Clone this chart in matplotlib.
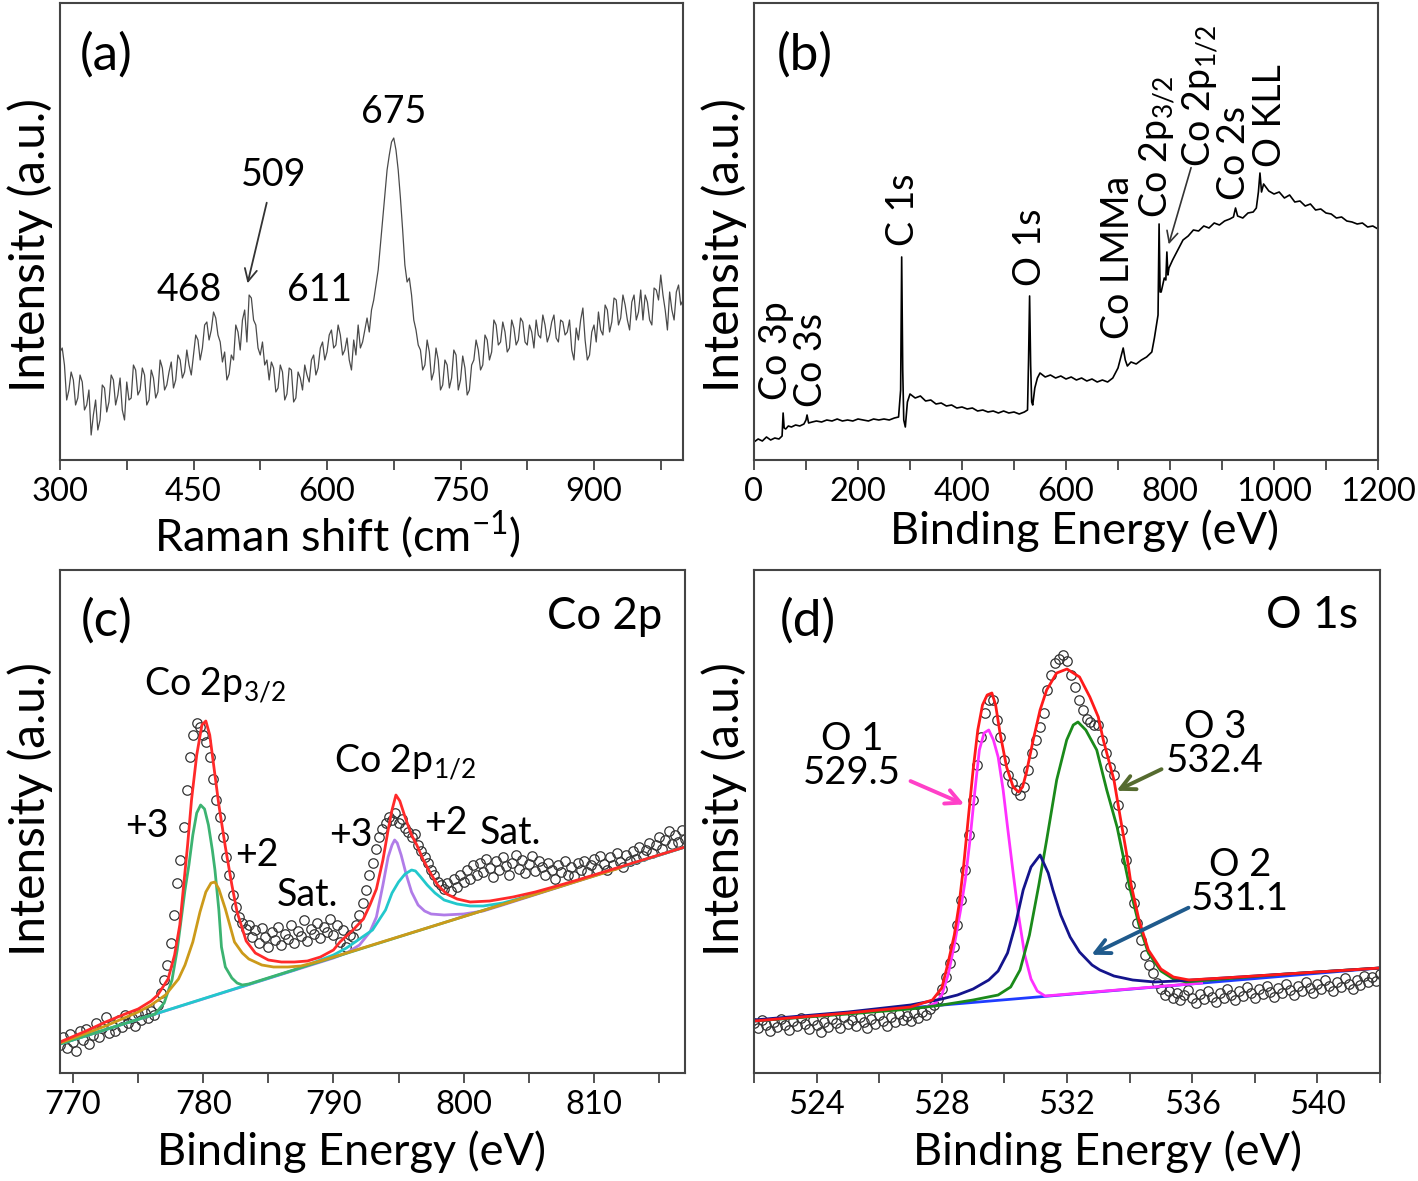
import matplotlib.pyplot as plt
import numpy as np

plt.rcParams['font.family'] = ['Lato', 'DejaVu Sans']
plt.rcParams['mathtext.fontset'] = 'custom'
plt.rcParams['mathtext.rm'] = 'Lato'
plt.rcParams['mathtext.it'] = 'Lato:italic'
plt.rcParams['mathtext.bf'] = 'Lato:bold'

# ---------------- (a) Raman spectrum, 300-1000 cm-1 every 2.5 cm-1 ----------------
raman_start = 300
raman_step = 2.5
raman_y = [108, 112, 95, 60, 70, 88, 80, 55, 62, 85, 78, 50, 55, 70, 25, 45, 60, 30, 40, 75,
           72, 48, 58, 85, 80, 55, 65, 82, 50, 40, 78, 60, 62, 95, 90, 65, 70, 92, 85, 55,
           60, 90, 82, 62, 68, 100, 92, 70, 75, 88, 98, 72, 80, 105, 100, 82, 88, 110, 95, 85,
           105, 125, 120, 100, 112, 135, 138, 120, 130, 148, 142, 125, 118, 98, 108, 80, 86, 105, 100, 135,
           128, 110, 140, 150, 118, 165, 162, 140, 135, 112, 105, 118, 95, 100, 80, 98, 92, 68, 72, 95,
           88, 60, 66, 92, 90, 58, 62, 88, 82, 70, 95, 85, 78, 100, 105, 85, 92, 112, 118, 100,
           108, 125, 130, 112, 115, 135, 125, 105, 110, 122, 100, 90, 120, 105, 135, 112, 118, 130, 142, 128,
           150, 160, 175, 190, 215, 240, 265, 290, 305, 318, 322, 310, 290, 262, 230, 195, 178, 182, 165, 140,
           130, 115, 110, 90, 95, 120, 108, 80, 88, 112, 100, 70, 75, 100, 95, 72, 82, 110, 105, 70,
           80, 104, 92, 65, 70, 95, 100, 120, 110, 90, 95, 125, 120, 100, 108, 140, 135, 115, 118, 138,
           128, 108, 112, 140, 132, 115, 120, 142, 138, 118, 115, 135, 128, 112, 140, 125, 122, 145, 135, 118,
           125, 138, 145, 122, 118, 140, 138, 125, 128, 140, 110, 100, 132, 120, 140, 152, 120, 100, 105, 128,
           135, 118, 148, 130, 125, 155, 150, 128, 138, 162, 160, 135, 142, 165, 155, 140, 130, 158, 165, 140,
           148, 170, 140, 165, 158, 140, 135, 172, 170, 160, 185, 165, 150, 130, 168, 150, 140, 168, 175, 155,
           160]
raman_x = raman_start + raman_step * np.arange(len(raman_y))
raman_peaks = ['468', '509', '611', '675']
raman_peak_pos = [445, 540, 592, 675]
raman_peak_lvl = [170, 285, 170, 348]

# ---------------- (b) XPS survey ----------------
sv_x = [0, 8, 16, 24, 32, 40, 48, 54, 56, 58,
        61, 66, 72, 80, 88, 96, 100, 102, 105, 112,
        120, 130, 140, 150, 160, 170, 180, 190, 200, 210,
        220, 230, 240, 250, 260, 270, 278, 282, 284, 286,
        288, 291, 295, 300, 310, 320, 330, 340, 350, 360,
        370, 380, 390, 400, 410, 420, 430, 440, 450, 460,
        470, 480, 490, 500, 510, 520, 526, 528, 530, 532,
        534, 536, 540, 545, 550, 560, 570, 580, 590, 600,
        610, 620, 630, 640, 650, 660, 670, 680, 690, 700,
        706, 710, 714, 718, 725, 735, 745, 755, 765, 770,
        775, 777, 779, 781, 783, 786, 789, 792, 794, 796,
        798, 805, 815, 825, 835, 845, 855, 865, 875, 885,
        895, 905, 915, 922, 926, 930, 940, 950, 960, 966,
        970, 973, 976, 980, 990, 1000, 1010, 1020, 1030, 1040,
        1050, 1060, 1070, 1080, 1090, 1100, 1110, 1120, 1130, 1140,
        1150, 1160, 1170, 1180, 1190, 1200]
sv_y = [18, 21, 19, 23, 20, 22, 21, 24, 47, 32,
        31, 34, 33, 35, 34, 36, 40, 45, 37, 38,
        39, 38, 40, 39, 41, 39, 40, 39, 41, 40,
        39, 41, 40, 41, 40, 42, 43, 70, 203, 90,
        40, 33, 58, 66, 62, 64, 59, 60, 56, 57,
        54, 55, 52, 53, 51, 52, 49, 50, 48, 49,
        47, 49, 47, 48, 46, 48, 50, 100, 164, 95,
        58, 55, 72, 82, 87, 83, 85, 82, 84, 81,
        83, 80, 82, 79, 81, 78, 80, 78, 82, 92,
        104, 112, 100, 94, 98, 96, 100, 103, 108, 122,
        138, 145, 236, 168, 168, 175, 182, 180, 208, 185,
        192, 200, 210, 220, 224, 230, 229, 234, 232, 237,
        235, 239, 241, 243, 252, 244, 242, 247, 248, 252,
        268, 287, 268, 276, 269, 266, 268, 262, 265, 258,
        259, 254, 256, 250, 251, 247, 246, 242, 243, 239,
        238, 236, 237, 233, 234, 231]
sv_labels = ['Co 3p', 'Co 3s', 'C 1s', 'O 1s', 'Co LMMa',
             'Co 2p$_{3/2}$', 'Co 2p$_{1/2}$', 'Co 2s', 'O KLL']
sv_label_pos = [42, 110, 287, 531, 700, 775, 858, 923, 992]
sv_label_lvl = [60, 53, 214, 174, 121, 242, 293, 260, 293]

# ---------------- (c) Co 2p ----------------
co_start = 769
co_step = 0.25
co_pts = [30, 38, 27, 41, 33, 24, 44, 35, 46, 31, 40, 52, 38, 47, 58, 42,
          50, 44, 55, 48, 60, 52, 57, 49, 61, 55, 62, 57, 64, 60, 70, 82,
          95, 110, 132, 160, 192, 215, 248, 285, 318, 340, 352, 348, 340, 333,
          318, 296, 275, 258, 238, 218, 200, 180, 168, 158, 152, 146, 150, 138,
          145, 132, 147, 138, 128, 143, 135, 148, 130, 141, 136, 150, 132, 144,
          139, 155, 134, 146, 141, 152, 137, 148, 143, 156, 140, 150, 133, 145,
          128, 140, 138, 150, 160, 172, 185, 200, 212, 226, 238, 246, 252, 258,
          255, 262, 252, 256, 247, 243, 238, 241, 230, 224, 218, 212, 205, 200,
          193, 190, 186, 192, 184, 196, 188, 200, 193, 205, 196, 210, 200, 212,
          203, 216, 207, 198, 214, 205, 218, 209, 200, 212, 220, 206, 215, 202,
          211, 219, 204, 214, 208, 200, 212, 205, 196, 210, 203, 214, 200, 208,
          199, 212, 205, 214, 203, 210, 216, 206, 219, 211, 205, 218, 210, 222,
          213, 208, 220, 214, 224, 216, 228, 219, 225, 232, 222, 230, 238, 226,
          235, 244, 231, 240, 233, 245, 236]
co_x = co_start + co_step * np.arange(len(co_pts))

co_env_x = [769, 771, 772.5, 774, 775, 776, 776.5, 777.3, 777.8, 778.2, 778.5,
            778.8, 779.1, 779.5, 779.9, 780.2, 780.5, 780.9, 781.2, 781.7, 782.2,
            782.6, 783.3, 784, 785, 786, 787, 788, 789, 790, 790.5, 791.5, 792.3,
            792.8, 793.3, 793.8, 794.2, 794.5, 794.8, 795.1, 795.5, 796, 796.4,
            796.9, 797.4, 798, 798.7, 799.5, 800.5, 802, 803.8, 805.5, 807.7, 809, 817]
co_env_y = [33, 44, 53, 61, 66, 74, 80, 96, 120, 150, 190,
            230, 275, 320, 350, 354, 340, 300, 270, 228, 190,
            163, 134, 122, 115, 113, 113, 114, 118, 125, 133, 145, 156,
            170, 186, 215, 245, 265, 280, 274, 258, 240, 230,
            215, 203, 190, 181, 176, 173, 174, 178, 183, 191, 196, 228]

co3_a_x = [769, 776.3, 777, 777.6, 778, 778.3, 778.6, 778.9, 779.2, 779.5, 779.8,
           780.1, 780.4, 780.7, 780.9, 781.2, 781.4, 781.7, 782.2, 782.6, 783, 783.5, 817]
co3_a_y = [31, 61, 72, 95, 125, 155, 185, 210, 240, 262, 270,
           266, 250, 225, 205, 165, 128, 108, 97, 92, 90, 91, 228]

co2_a_x = [769, 772.5, 775, 776, 777.1, 778.1, 778.6, 779.2, 779.75, 780.2, 780.6,
           780.9, 781.2, 781.7, 782.4, 783, 783.5, 784.5, 785.4, 786.5, 787.5, 789, 791, 812]
co2_a_y = [32, 49, 63, 70, 80, 96, 110, 133, 163, 183, 192,
           193, 186, 166, 133, 122, 116, 110, 108, 108, 109, 114, 122, 207]

co3_b_x = [769, 790, 791, 792, 792.8, 793.3, 793.8, 794.2, 794.5, 794.7, 794.9,
           795.2, 795.6, 796, 796.5, 797, 797.5, 798.5, 800, 801.5, 803, 817]
co3_b_y = [31, 117, 122, 130, 143, 158, 190, 218, 230, 235, 232,
           220, 200, 183, 170, 164, 161, 160, 161, 164, 170, 228]

co2_b_x = [769, 787, 788, 789, 790, 791, 792, 793, 794, 794.5, 795, 795.5, 796,
           796.3, 796.7, 797.2, 797.8, 798.5, 799.5, 800.5, 801.5, 803, 805, 817]
co2_b_y = [31, 105, 110, 115, 120, 127, 136, 145, 165, 182, 193, 201, 205,
           204, 198, 190, 182, 175, 171, 169, 169, 172, 179, 228]

# ---------------- (d) O 1s ----------------
o_start = 522
o_step = 0.125
o_pts = [52, 47, 55, 50, 44, 53, 48, 56, 50, 45, 54, 49, 57, 51, 46, 55,
         50, 43, 53, 48, 56, 52, 47, 58, 51, 55, 49, 58, 53, 47, 56, 51,
         60, 54, 49, 58, 53, 61, 55, 59, 54, 62, 57, 63, 60, 66, 70, 76,
         86, 98, 112, 128, 150, 175, 205, 240, 275, 310, 338, 362, 375, 375,
         355, 338, 315, 300, 292, 285, 280, 288, 305, 322, 335, 348, 362, 385,
         400, 412, 416, 420, 414, 400, 388, 375, 365, 356, 353, 350, 350, 335,
         322, 308, 300, 270, 245, 215, 190, 172, 152, 135, 120, 110, 102, 92,
         86, 80, 84, 77, 82, 75, 80, 85, 77, 72, 81, 76, 84, 78, 73, 82,
         77, 86, 80, 75, 84, 79, 88, 82, 77, 86, 81, 89, 83, 78, 87, 82,
         91, 85, 80, 89, 84, 93, 87, 82, 91, 86, 95, 89, 84, 93, 88, 97,
         91, 86, 95, 90, 99, 93, 98, 94, 101]
o_x = o_start + o_step * np.arange(len(o_pts))

o_env_x = [522, 525, 527, 527.7, 528.0, 528.2, 528.4, 528.55, 528.7, 528.85, 529.0,
           529.15, 529.3, 529.45, 529.6, 529.72, 529.86, 530.07, 530.28, 530.45, 530.58,
           530.7, 530.92, 531.14, 531.35, 531.67, 532.0, 532.4, 532.73, 533.0, 533.16,
           533.5, 533.7, 533.9, 534.05, 534.3, 534.6, 535.0, 535.4, 535.9, 537, 542]
o_env_y = [54, 62, 68, 75, 87, 112, 140, 170, 210, 258, 305,
           345, 370, 380, 382, 370, 342, 308, 288, 283, 288,
           302, 335, 365, 385, 402, 406, 398, 378, 358, 335,
           295, 258, 222, 190, 155, 125, 106, 98, 95, 97, 107]

o1_x = [527.5, 527.8, 528.0, 528.2, 528.4, 528.6, 528.75, 528.9, 529.06, 529.2, 529.35,
        529.5, 529.65, 529.8, 529.96, 530.1, 530.28, 530.45, 530.65, 530.85, 531.05, 531.3, 536.3]
o1_y = [68, 72, 80, 100, 130, 165, 195, 235, 285, 325, 342,
        345, 335, 318, 285, 248, 202, 160, 120, 96, 84, 79, 92]

o2_x = [522, 525, 527, 528, 528.5, 529, 529.5, 529.8, 530.1, 530.35, 530.6, 530.85,
        531.14, 531.4, 531.55, 531.8, 532.1, 532.4, 532.8, 533.05, 533.5, 534.1,
        534.8, 535.5, 536.5, 538, 540, 542]
o2_y = [55, 63, 70, 76, 80, 86, 95, 104, 122, 150, 185, 208,
        220, 202, 185, 160, 138, 123, 110, 105, 99, 95,
        93, 94, 96, 99, 103, 107]

o3_x = [522, 525, 527, 528, 529, 529.8, 530.2, 530.5, 530.8, 531.1, 531.35, 531.67,
        531.99, 532.2, 532.35, 532.6, 532.95, 533.27, 533.6, 533.8, 534.0, 534.3,
        534.6, 535.0, 535.4, 535.8, 537, 539, 542]
o3_y = [54, 61, 66, 70, 75, 80, 88, 105, 140, 190, 235, 295,
        335, 350, 353, 345, 325, 285, 248, 218, 188, 150,
        122, 104, 96, 93, 96, 101, 107]

o_base_x = [522, 542]
o_base_y = [54, 107]

W, H = 1418, 1181
fig = plt.figure(figsize=(W / 100, H / 100), dpi=100)


def make_axes(left, right, top, bottom):
    return fig.add_axes([left / W, 1 - bottom / H, (right - left) / W, (bottom - top) / H])


def style(ax, xlim, ylim, major, minor, xlabel, xpad, xlab_x, ylab_y):
    ax.set_xlim(xlim)
    ax.set_ylim(ylim)
    ax.set_xticks(major)
    ax.set_xticks(minor, minor=True)
    ax.set_yticks([])
    ax.tick_params(axis='x', which='both', direction='out', length=7, width=1.3,
                   labelsize=23.5, pad=5, color='#444444')
    ax.set_xlabel(xlabel, fontsize=32.5, labelpad=xpad)
    ax.set_ylabel('Intensity (a.u.)', fontsize=34.5, labelpad=5)
    # the labels are not centred on the axes in the original figure
    ax.xaxis.label.set_x(xlab_x)
    ax.yaxis.label.set_y(ylab_y)
    for s in ax.spines.values():
        s.set_linewidth(1.5)
        s.set_color('#444444')


ax_a = make_axes(60, 683, 3, 460)
ax_b = make_axes(754, 1378, 3, 460)
ax_c = make_axes(60, 685, 570, 1073)
ax_d = make_axes(754, 1380, 570, 1073)

# (a)
ax_a.plot(raman_x, raman_y, color='#4a4a4a', lw=0.9)
style(ax_a, (300, 1000), (0, 457), np.arange(300, 901, 150), np.arange(375, 1000, 150),
      'Raman shift (cm$^{-1}$)', 2, 0.445, 0.47)
for lab, px, lv in zip(raman_peaks, raman_peak_pos, raman_peak_lvl):
    ax_a.text(px, lv, lab, fontsize=27, ha='center', va='center')
ax_a.annotate('', xy=(510, 174), xytext=(533, 260),
              arrowprops=dict(arrowstyle='->', color='#333333', lw=1.3, mutation_scale=22))
ax_a.text(0.074, 0.886, '(a)', transform=ax_a.transAxes, fontsize=37, ha='center', va='center')

# (b)
ax_b.plot(sv_x, sv_y, color='black', lw=1.2)
style(ax_b, (0, 1200), (0, 457), np.arange(0, 1201, 200), np.arange(100, 1200, 200),
      'Binding Energy (eV)', 2, 0.53, 0.47)
for lab, px, lv in zip(sv_labels, sv_label_pos, sv_label_lvl):
    ax_b.text(px, lv, lab, fontsize=27, rotation=90, ha='center', va='bottom')
ax_b.annotate('', xy=(796, 213), xytext=(842, 295),
              arrowprops=dict(arrowstyle='->', color='#333333', lw=1.2, mutation_scale=20))
ax_b.text(0.082, 0.886, '(b)', transform=ax_b.transAxes, fontsize=37, ha='center', va='center')

# (c)
ax_c.plot(co_x, co_pts, 'o', mfc='none', mec='#333333', ms=6.8, mew=0.9)
ax_c.plot(co3_b_x, co3_b_y, color='#b07ce8', lw=2)
ax_c.plot(co2_b_x, co2_b_y, color='#22c8cc', lw=2)
ax_c.plot(co3_a_x, co3_a_y, color='#3cb371', lw=2)
ax_c.plot(co2_a_x, co2_a_y, color='#cc9a1a', lw=2)
ax_c.plot(co_env_x, co_env_y, color='#ff2a2a', lw=2)
style(ax_c, (769, 817), (2, 505), np.arange(770, 811, 10), np.arange(775, 816, 10),
      'Binding Energy (eV)', 8, 0.467, 0.525)
ax_c.text(780.9, 390, 'Co 2p$_{3/2}$', fontsize=27, ha='center', va='center')
ax_c.text(795.5, 313, 'Co 2p$_{1/2}$', fontsize=27, ha='center', va='center')
for lab, px, lv in [('+3', 775.7, 249), ('+2', 784.1, 220), ('Sat.', 788.0, 180),
                    ('+3', 791.35, 240), ('+2', 798.6, 252), ('Sat.', 803.6, 242)]:
    ax_c.text(px, lv, lab, fontsize=27, ha='center', va='center')
ax_c.text(0.075, 0.899, '(c)', transform=ax_c.transAxes, fontsize=37, ha='center', va='center')
ax_c.text(0.872, 0.907, 'Co 2p', transform=ax_c.transAxes, fontsize=31.5, ha='center', va='center')

# (d)
ax_d.plot(o_x, o_pts, 'o', mfc='none', mec='#333333', ms=6.8, mew=0.9)
ax_d.plot(o_base_x, o_base_y, color='#1f3cff', lw=2)
ax_d.plot(o1_x, o1_y, color='#ff30ff', lw=2)
ax_d.plot(o3_x, o3_y, color='#1a8a1a', lw=2)
ax_d.plot(o2_x, o2_y, color='#14148c', lw=2)
ax_d.plot(o_env_x, o_env_y, color='#ff1a1a', lw=2)
style(ax_d, (522, 542), (2, 505), np.arange(524, 541, 4), np.arange(522, 543, 4),
      'Binding Energy (eV)', 8, 0.564, 0.525)
ax_d.text(525.13, 319, 'O 1\n529.5', fontsize=27.5, ha='center', va='center', linespacing=0.9)
ax_d.text(536.73, 331, 'O 3\n532.4', fontsize=27.5, ha='center', va='center', linespacing=0.9)
ax_d.text(537.53, 193, 'O 2\n531.1', fontsize=27.5, ha='center', va='center', linespacing=0.9)
ax_d.annotate('', xy=(528.8, 269.5), xytext=(526.92, 295),
              arrowprops=dict(arrowstyle='->', color='#ff40c8', lw=2.8, mutation_scale=26))
ax_d.annotate('', xy=(533.5, 283), xytext=(535.1, 307),
              arrowprops=dict(arrowstyle='->', color='#556b2f', lw=2.8, mutation_scale=26))
ax_d.annotate('', xy=(532.7, 119), xytext=(535.96, 168.5),
              arrowprops=dict(arrowstyle='->', color='#1f5a8c', lw=2.8, mutation_scale=26))
ax_d.text(0.086, 0.899, '(d)', transform=ax_d.transAxes, fontsize=37, ha='center', va='center')
ax_d.text(0.891, 0.91, 'O 1s', transform=ax_d.transAxes, fontsize=32, ha='center', va='center')

fig.savefig('out.png', dpi=100)
